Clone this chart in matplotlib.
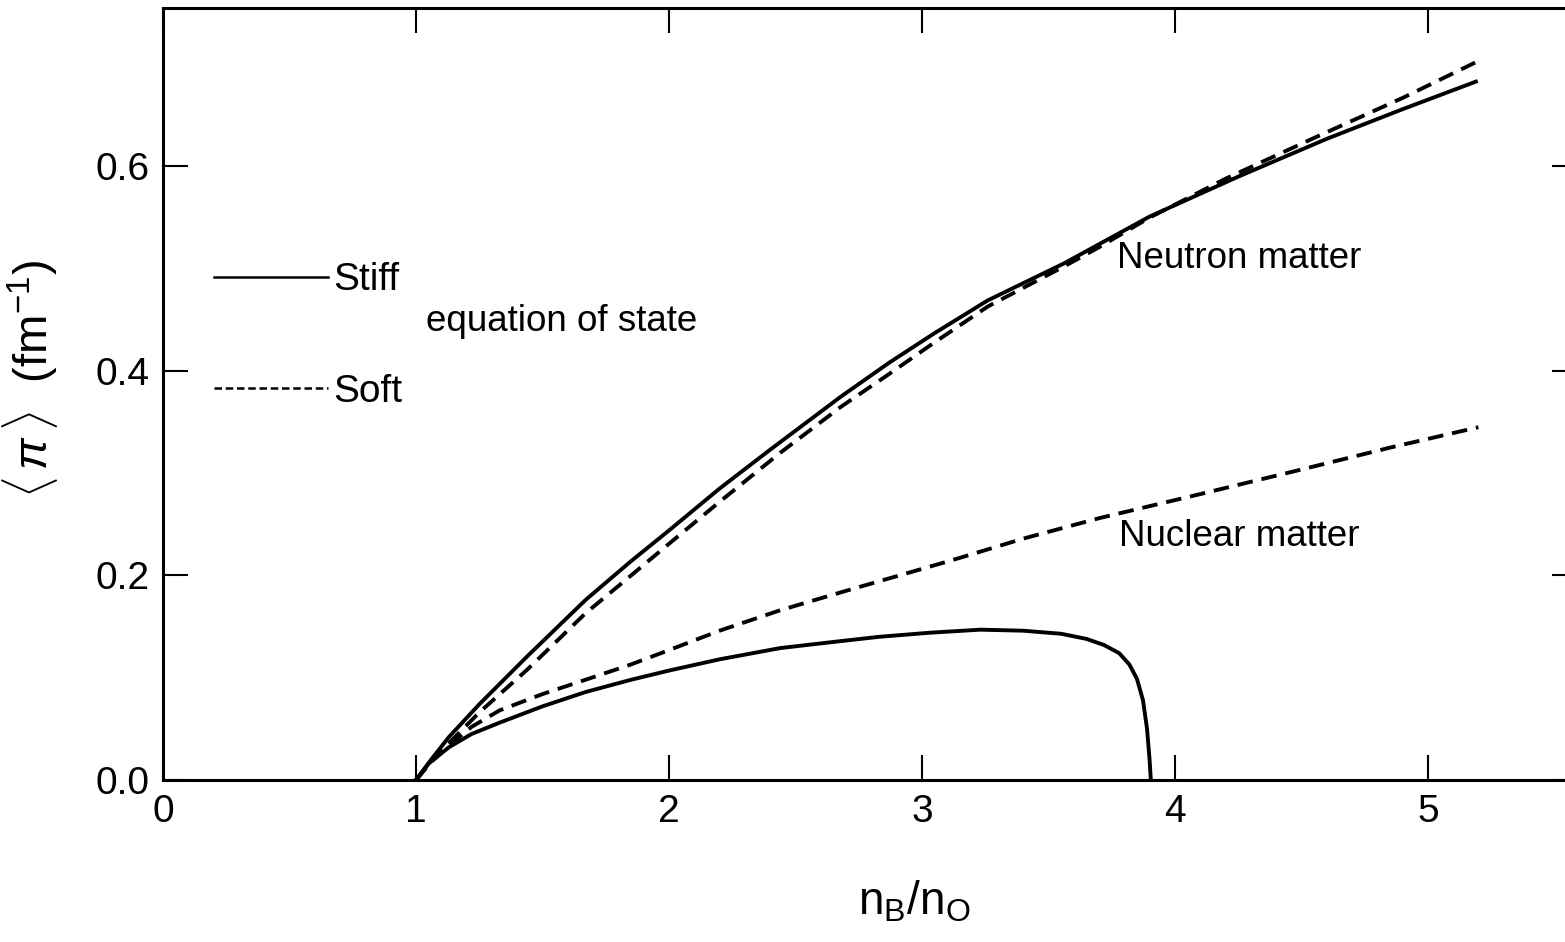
import matplotlib
matplotlib.use("Agg")
import matplotlib.pyplot as plt

plt.rcParams["font.family"] = ["Liberation Sans", "DejaVu Sans"]
plt.rcParams["mathtext.fontset"] = "custom"
plt.rcParams["mathtext.rm"] = "Liberation Sans"
plt.rcParams["mathtext.it"] = "Liberation Sans:italic"

# neutron matter, stiff equation of state
neu_stiff_x = [1.0, 1.06, 1.13, 1.25, 1.44, 1.67, 1.85, 2.0, 2.2, 2.4, 2.68, 2.87, 3.05,
               3.26, 3.56, 3.9, 4.25, 4.6, 4.9, 5.19]
neu_stiff_y = [0.0, 0.02, 0.042, 0.074, 0.121, 0.176, 0.214, 0.244, 0.285, 0.323, 0.375,
               0.408, 0.437, 0.469, 0.505, 0.551, 0.590, 0.627, 0.656, 0.683]

# neutron matter, soft equation of state
neu_soft_x = [1.0, 1.06, 1.13, 1.25, 1.44, 1.67, 1.85, 2.0, 2.2, 2.44, 2.68, 2.87, 3.05,
              3.26, 3.56, 3.7, 3.9, 4.2, 4.56, 4.9, 5.19]
neu_soft_y = [0.0, 0.018, 0.036, 0.066, 0.108, 0.163, 0.2, 0.231, 0.272, 0.32, 0.365,
              0.397, 0.428, 0.463, 0.502, 0.521, 0.550, 0.588, 0.629, 0.667, 0.702]

# nuclear matter, soft equation of state
nuc_soft_x = [1.0, 1.06, 1.13, 1.22, 1.33, 1.5, 1.67, 1.85, 2.0, 2.2, 2.44, 2.7, 3.12,
              3.4, 3.7, 4.09, 4.49, 4.85, 5.2]
nuc_soft_y = [0.0, 0.018, 0.034, 0.052, 0.068, 0.084, 0.098, 0.113, 0.127, 0.146, 0.166,
              0.185, 0.215, 0.236, 0.256, 0.279, 0.303, 0.325, 0.345]

# nuclear matter, stiff equation of state
nuc_stiff_x = [1.0, 1.05, 1.13, 1.22, 1.33, 1.5, 1.67, 1.85, 2.0, 2.2, 2.44, 2.65, 2.83,
               3.03, 3.23, 3.4, 3.55, 3.65, 3.72, 3.78, 3.82, 3.85, 3.874, 3.89, 3.9, 3.905]
nuc_stiff_y = [0.0, 0.016, 0.032, 0.045, 0.056, 0.072, 0.086, 0.098, 0.107, 0.118, 0.129,
               0.135, 0.140, 0.144, 0.147, 0.146, 0.143, 0.138, 0.132, 0.124, 0.113,
               0.099, 0.078, 0.05, 0.02, 0.0]

x_ticks = [0, 1, 2, 3, 4, 5]
y_ticks = [0.0, 0.2, 0.4, 0.6]
y_tick_labels = ["0.0", "0.2", "0.4", "0.6"]

fig = plt.figure(figsize=(15.65, 9.42), dpi=100)
ax = fig.add_axes([0.1042, 0.172, 0.9035, 0.8195])

lw = 2.8
dash = (4.0, 2.3)
ax.plot(neu_stiff_x, neu_stiff_y, color="black", lw=lw)
ax.plot(neu_soft_x, neu_soft_y, color="black", lw=lw, dashes=dash)
ax.plot(nuc_soft_x, nuc_soft_y, color="black", lw=lw, dashes=dash)
ax.plot(nuc_stiff_x, nuc_stiff_y, color="black", lw=lw)

# hand-made key: line samples with labels
h_stiff, = ax.plot([], [], color="black", lw=1.8)
h_soft, = ax.plot([], [], color="black", lw=1.8, dashes=(3, 1.5))
leg = ax.legend([h_stiff, h_soft], ["Stiff", "Soft"], loc="upper left",
                bbox_to_anchor=(0.011, 0.716), frameon=False, fontsize=28,
                handlelength=2.95, handletextpad=0.12, labelspacing=1.95)

ax.text(1.04, 0.448, "equation of state", fontsize=26.5, va="center")
ax.text(3.77, 0.51, "Neutron matter", fontsize=26.5, va="center")
ax.text(3.78, 0.238, "Nuclear matter", fontsize=26.5, va="center")

ax.set_xlim(0, 5.59)
ax.set_ylim(0, 0.755)
ax.set_xticks(x_ticks)
ax.set_yticks(y_ticks)
ax.set_yticklabels(y_tick_labels)
ax.tick_params(direction="in", length=18, width=1.5, labelsize=28,
               top=True, right=True, pad=10)
for s in ax.spines.values():
    s.set_linewidth(2.2)

ax.set_xlabel(r"n$_\mathrm{B}$/n$_\mathrm{O}$", fontsize=33)
ax.xaxis.set_label_coords(0.531, -0.128)
ax.set_ylabel(r"$\langle\,\pi\,\rangle$  (fm$^{-1}$)", fontsize=34)
ax.yaxis.set_label_coords(-0.073, 0.52)

fig.savefig("out.png", dpi=100)
